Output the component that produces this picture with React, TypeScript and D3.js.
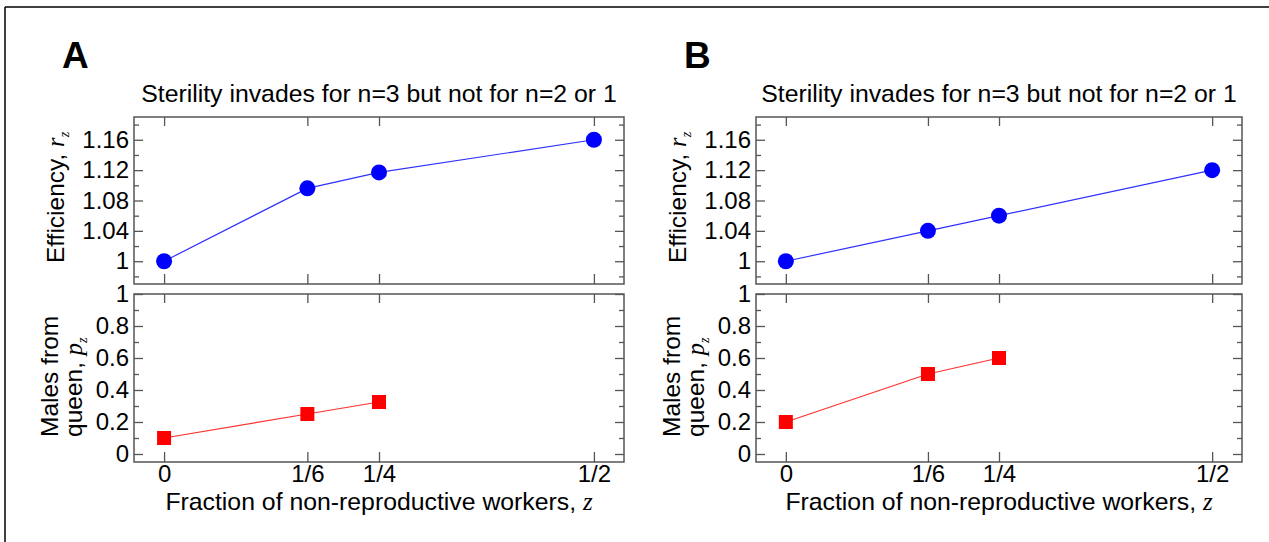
import React, { useEffect, useRef } from 'react';
import * as d3 from 'd3';

// x positions (fraction of non-reproductive workers)
const zTicks = [0, 1 / 6, 1 / 4, 1 / 2];
const zTickLabels = ['0', '1/6', '1/4', '1/2'];
const zEff = [0, 1 / 6, 1 / 4, 1 / 2];
const zMales = [0, 1 / 6, 1 / 4];

// panel A
const effA = [1.0, 1.096, 1.117, 1.16];
const malesA = [0.1, 0.25, 0.325];
// panel B
const effB = [1.0, 1.04, 1.06, 1.12];
const malesB = [0.2, 0.5, 0.6];

const effTicks = [1, 1.04, 1.08, 1.12, 1.16];
const effTickLabels = ['1', '1.04', '1.08', '1.12', '1.16'];
const effMinor = [0.98, 1.02, 1.06, 1.1, 1.14, 1.18];
const malesTicks = [0, 0.2, 0.4, 0.6, 0.8, 1];
const malesTickLabels = ['0', '0.2', '0.4', '0.6', '0.8', '1'];
const malesMinor = [0.1, 0.3, 0.5, 0.7, 0.9];

const title = 'Sterility invades for n=3 but not for n=2 or 1';

const FONT = '"Liberation Sans", Arial, Helvetica, sans-serif';
const SERIF = '"Liberation Serif", "DejaVu Serif", serif';
const AXIS = '#555';

type Panel = {
    letter: string;
    left: number;
    right: number;
    eff: number[];
    males: number[];
};

const panels: Panel[] = [
    { letter: 'A', left: 134, right: 624, eff: effA, males: malesA },
    { letter: 'B', left: 756, right: 1242, eff: effB, males: malesB },
];

const topY = [117, 284];
const botY = [294, 462];

const App: React.FC = () => {
    const ref = useRef<SVGSVGElement>(null);

    useEffect(() => {
        if (!ref.current) return;
        const svg = d3.select(ref.current);
        svg.selectAll('*').remove();

        // outer frame (only top and left visible)
        svg.append('line').attr('x1', 5).attr('x2', 1269).attr('y1', 7).attr('y2', 7)
            .attr('stroke', '#000').attr('stroke-width', 1.5);
        svg.append('line').attr('x1', 5).attr('x2', 5).attr('y1', 7).attr('y2', 542)
            .attr('stroke', '#000').attr('stroke-width', 1.5);

        const styleAxis = (g: d3.Selection<SVGGElement, unknown, null, undefined>) => {
            g.select('.domain').remove();
            g.selectAll('line').attr('stroke', AXIS).attr('stroke-width', 1.3);
            g.selectAll('text').filter(function () { return !d3.select(this).text(); }).remove();
            g.selectAll('text').attr('font-family', FONT).attr('font-size', 24).attr('fill', '#000');
            g.attr('font-family', null).attr('font-size', null);
        };

        panels.forEach(p => {
            const g = svg.append('g');
            const x = d3.scaleLinear().domain([-0.035, 0.535]).range([p.left, p.right]);
            const cx = (p.left + p.right) / 2;

            g.append('text').text(p.letter)
                .attr('x', p.left - 72).attr('y', 68)
                .attr('font-family', FONT).attr('font-weight', 'bold').attr('font-size', 37);

            g.append('text').text(title)
                .attr('x', cx).attr('y', 102).attr('text-anchor', 'middle')
                .attr('font-family', FONT).attr('font-size', 24.8);

            const sub = [
                {
                    y: d3.scaleLinear().domain([0.97, 1.19]).range([topY[1], topY[0]]),
                    rng: topY, ticks: effTicks, labels: effTickLabels, minor: effMinor,
                    xs: zEff, vals: p.eff, color: '#0000ff', line: '#3030ff', shape: 'circle', xlab: false,
                },
                {
                    y: d3.scaleLinear().domain([-0.05, 1]).range([botY[1], botY[0]]),
                    rng: botY, ticks: malesTicks, labels: malesTickLabels, minor: malesMinor,
                    xs: zMales, vals: p.males, color: '#ff0000', line: '#ff3030', shape: 'square', xlab: true,
                },
            ];

            sub.forEach(s => {
                const [y0, y1] = s.rng;
                // left axis with labels
                g.append('g').attr('transform', `translate(${p.left},0)`)
                    .call(d3.axisLeft(s.y).tickValues(s.ticks).tickSize(-9).tickPadding(5)
                        .tickFormat((_d, i) => s.labels[i]))
                    .call(styleAxis);
                g.append('g').attr('transform', `translate(${p.left},0)`)
                    .call(d3.axisLeft(s.y).tickValues(s.minor).tickSize(-5).tickFormat(() => ''))
                    .call(styleAxis);
                // right axis
                g.append('g').attr('transform', `translate(${p.right},0)`)
                    .call(d3.axisRight(s.y).tickValues(s.ticks).tickSize(-9).tickFormat(() => ''))
                    .call(styleAxis);
                g.append('g').attr('transform', `translate(${p.right},0)`)
                    .call(d3.axisRight(s.y).tickValues(s.minor).tickSize(-5).tickFormat(() => ''))
                    .call(styleAxis);
                // top / bottom x ticks
                g.append('g').attr('transform', `translate(0,${y0})`)
                    .call(d3.axisTop(x).tickValues(zTicks).tickSize(-9).tickFormat(() => ''))
                    .call(styleAxis);
                g.append('g').attr('transform', `translate(0,${y1})`)
                    .call(d3.axisBottom(x).tickValues(zTicks).tickSize(-10).tickPadding(3)
                        .tickFormat((_d, i) => (s.xlab ? zTickLabels[i] : '')))
                    .call(styleAxis);

                g.append('rect')
                    .attr('x', p.left).attr('y', y0)
                    .attr('width', p.right - p.left).attr('height', y1 - y0)
                    .attr('fill', 'none').attr('stroke', AXIS).attr('stroke-width', 1.5);

                const pts = s.xs.map((z, i) => [x(z), s.y(s.vals[i])] as [number, number]);
                g.append('path')
                    .attr('d', d3.line()(pts))
                    .attr('fill', 'none').attr('stroke', s.line).attr('stroke-width', 1.2);

                if (s.shape === 'circle') {
                    g.selectAll(null).data(pts).enter().append('circle')
                        .attr('cx', d => d[0]).attr('cy', d => d[1]).attr('r', 8)
                        .attr('fill', s.color);
                } else {
                    g.selectAll(null).data(pts).enter().append('rect')
                        .attr('x', d => d[0] - 7).attr('y', d => d[1] - 7)
                        .attr('width', 14).attr('height', 14)
                        .attr('fill', s.color);
                }
            });

            // x-axis title
            const xt = g.append('text')
                .attr('x', cx).attr('y', 510).attr('text-anchor', 'middle')
                .attr('font-family', FONT).attr('font-size', 24.8);
            xt.append('tspan').text('Fraction of non-reproductive workers, ');
            xt.append('tspan').text('z').attr('font-family', SERIF).attr('font-style', 'italic');

            // y-axis titles
            const effCy = (topY[0] + topY[1]) / 2;
            const et = g.append('text')
                .attr('transform', `translate(${p.left - 70},${effCy - 3}) rotate(-90)`)
                .attr('text-anchor', 'middle')
                .attr('font-family', FONT).attr('font-size', 24.5);
            et.append('tspan').text('Efficiency, ');
            et.append('tspan').text('r').attr('font-family', SERIF).attr('font-style', 'italic');
            et.append('tspan').text('z').attr('font-family', SERIF).attr('font-style', 'italic')
                .attr('font-size', 14).attr('dy', 5);

            const mCy = (botY[0] + botY[1]) / 2;
            const mt = g.append('text')
                .attr('transform', `translate(${p.left - 76},${mCy + 59}) rotate(-90)`)
                .attr('font-family', FONT).attr('font-size', 24.5);
            mt.append('tspan').text('Males from');
            const l2 = g.append('text')
                .attr('transform', `translate(${p.left - 52},${mCy + 59}) rotate(-90)`)
                .attr('font-family', FONT).attr('font-size', 24.5);
            l2.append('tspan').text('queen, ');
            l2.append('tspan').text('p').attr('font-family', SERIF).attr('font-style', 'italic');
            l2.append('tspan').text('z').attr('font-family', SERIF).attr('font-style', 'italic')
                .attr('font-size', 14).attr('dy', 5);
        });
    }, []);

    return (
        <svg ref={ref} width={1269} height={542}
            style={{ position: 'absolute', left: 0, top: 0, background: '#fff' }} />
    );
};

export default App;
